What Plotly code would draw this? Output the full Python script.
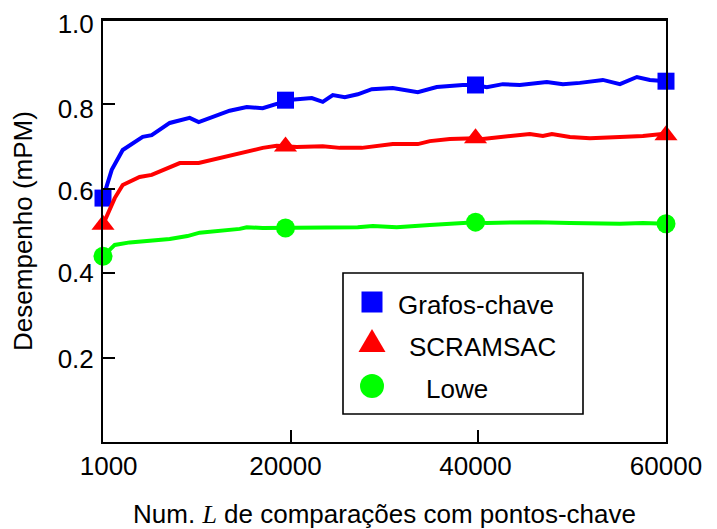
import plotly.graph_objects as go

# ---- data (x = position on the L axis, y = mPM) ----
grafos_x = [0, 930, 2100, 4230, 5190, 7110, 9240, 10200, 13500, 15320, 17020, 18510, 19450,
            22250, 23420, 24490, 25770, 27150, 28650, 30880, 33550, 35570, 38340, 39700,
            40900, 42610, 44420, 47300, 49010, 50820, 53270, 55090, 56900, 58280, 60000]
grafos_y = [0.578, 0.645, 0.692, 0.723, 0.727, 0.756, 0.768, 0.758, 0.785, 0.794, 0.791, 0.801, 0.810,
            0.815, 0.806, 0.822, 0.817, 0.824, 0.836, 0.839, 0.829, 0.841, 0.846, 0.846,
            0.841, 0.848, 0.846, 0.853, 0.848, 0.851, 0.858, 0.848, 0.865, 0.858, 0.855]

scram_x = [0, 1250, 2100, 3900, 5190, 8180, 10200, 14570, 15320, 17020, 18510, 19450, 20650,
           23420, 25240, 27580, 29190, 30880, 33550, 34830, 36960, 39700, 40470, 43680,
           45490, 46880, 47840, 49760, 51890, 55090, 57540, 59560, 60000]
scram_y = [0.515, 0.578, 0.609, 0.628, 0.633, 0.661, 0.661, 0.685, 0.687, 0.697, 0.702, 0.700, 0.699,
           0.701, 0.697, 0.697, 0.701, 0.706, 0.706, 0.713, 0.718, 0.720, 0.718, 0.727,
           0.730, 0.725, 0.730, 0.723, 0.720, 0.723, 0.725, 0.730, 0.727]

lowe_x = [0, 1250, 2850, 5000, 7110, 9000, 10300, 14570, 15320, 17020, 19450, 20650, 23420,
          27150, 28760, 31300, 34830, 37700, 39700, 40900, 46240, 49760, 55090, 57540, 60000]
lowe_y = [0.440, 0.467, 0.473, 0.476, 0.481, 0.488, 0.496, 0.505, 0.509, 0.507, 0.507, 0.509, 0.509,
          0.509, 0.512, 0.509, 0.514, 0.517, 0.521, 0.519, 0.521, 0.519, 0.517, 0.519, 0.517]

marker_x = [0, 19450, 39700, 60000]
grafos_m = [0.578, 0.810, 0.846, 0.855]
scram_m = [0.515, 0.700, 0.720, 0.727]
lowe_m = [0.440, 0.507, 0.521, 0.517]

# tick labels (label anchor positions) and tick marks
x_tick_pos = [600, 19450, 39700, 60000]
x_tick_text = ["1000", "20000", "40000", "60000"]
x_tick_marks = [20000, 40000]
y_tick_pos = [0.197, 0.40, 0.594, 0.79, 0.99]
y_tick_text = ["0.2", "0.4", "0.6", "0.8", "1.0"]
y_tick_marks = [0.2, 0.4, 0.6, 0.8]

names = ["Grafos-chave", "SCRAMSAC", "Lowe"]
colors = ["#0000ff", "#ff0000", "#00ff00"]

FONT = "Liberation Sans, Arial, Helvetica, sans-serif"

fig = go.Figure()
series = [(grafos_x, grafos_y, grafos_m, "square", 17),
          (scram_x, scram_y, scram_m, "triangle-up", 20),
          (lowe_x, lowe_y, lowe_m, "circle", 19)]
for (xs, ys, ms, sym, sz), name, col in zip(series, names, colors):
    fig.add_trace(go.Scatter(x=xs, y=ys, mode="lines", line=dict(color=col, width=4),
                             name=name, showlegend=False, cliponaxis=False))
    fig.add_trace(go.Scatter(x=marker_x, y=ms, mode="markers",
                             marker=dict(symbol=sym, size=sz, color=col, line=dict(width=0)),
                             name=name, showlegend=False, cliponaxis=False))

# ---- page geometry (the page body adds an 8px offset) ----
OFF = 8
W, H = 717 - OFF, 529 - OFF
L, R, T, B = 103 - OFF, 666 - OFF, 20 - OFF, 442 - OFF
def px(xp):
    return (xp - OFF - L) / (R - L)
def py(yp):
    return (B - (yp - OFF)) / (B - T)

shapes = [
    dict(type="rect", xref="paper", yref="paper", x0=px(343), x1=px(583), y0=py(414), y1=py(273),
         line=dict(color="black", width=1.6), fillcolor="white", layer="below"),
    dict(type="rect", xref="paper", yref="paper", xsizemode="pixel", ysizemode="pixel",
         xanchor=px(372), yanchor=py(302), x0=-10.5, x1=10.5, y0=-10.5, y1=10.5,
         line=dict(width=0), fillcolor=colors[0]),
    dict(type="path", xref="paper", yref="paper", xsizemode="pixel", ysizemode="pixel",
         xanchor=px(372), yanchor=py(340.5), path="M -13.5 -11.5 L 13.5 -11.5 L 0 11.5 Z",
         line=dict(width=0), fillcolor=colors[1]),
    dict(type="circle", xref="paper", yref="paper", xsizemode="pixel", ysizemode="pixel",
         xanchor=px(372), yanchor=py(386), x0=-12, x1=12, y0=-12, y1=12,
         line=dict(width=0), fillcolor=colors[2]),
    # top frame line of the plot box
    dict(type="line", xref="paper", yref="paper", x0=0, x1=1, y0=1, y1=1,
         line=dict(color="black", width=2)),
]
annotations = [
    dict(text=names[0], x=px(396), y=py(305), xref="paper", yref="paper",
         xanchor="left", yanchor="middle", showarrow=False, font=dict(size=26, color="black", family=FONT)),
    dict(text=names[1], x=px(407), y=py(347), xref="paper", yref="paper",
         xanchor="left", yanchor="middle", showarrow=False, font=dict(size=26, color="black", family=FONT)),
    dict(text=names[2], x=px(424), y=py(389), xref="paper", yref="paper",
         xanchor="left", yanchor="middle", showarrow=False, font=dict(size=26, color="black", family=FONT)),
]

fig.update_layout(
    width=W, height=H,
    margin=dict(l=L, r=W - R, t=T, b=H - B, autoexpand=False),
    paper_bgcolor="white", plot_bgcolor="white",
    font=dict(family=FONT, size=26, color="black"),
    showlegend=False,
    shapes=shapes, annotations=annotations,
    xaxis=dict(range=[0, 60000], showgrid=False, zeroline=False, automargin=False,
               showline=True, linecolor="black", linewidth=2, mirror=True,
               tickmode="array", tickvals=x_tick_pos, ticktext=x_tick_text, ticks="",
               ticklabeloverflow="allow",
               minor=dict(tickmode="array", tickvals=x_tick_marks, ticks="inside",
                          ticklen=12, tickwidth=2, tickcolor="black", showgrid=False),
               tickfont=dict(size=26),
               title=dict(text="Num. <i><span style=\"font-family:'Liberation Serif'\">L</span></i> de comparações com pontos-chave",
                          font=dict(size=26), standoff=25)),
    yaxis=dict(range=[0, 1.0], showgrid=False, zeroline=False, automargin=False,
               showline=True, linecolor="black", linewidth=2, mirror=True,
               tickmode="array", tickvals=y_tick_pos, ticktext=y_tick_text, ticks="",
               ticklabeloverflow="allow", ticklabelstandoff=2,
               minor=dict(tickmode="array", tickvals=y_tick_marks, ticks="inside",
                          ticklen=12, tickwidth=2, tickcolor="black", showgrid=False),
               tickfont=dict(size=26),
               title=dict(text="Desempenho (mPM)", font=dict(size=26), standoff=19)),
)

fig.write_html("out.html")
